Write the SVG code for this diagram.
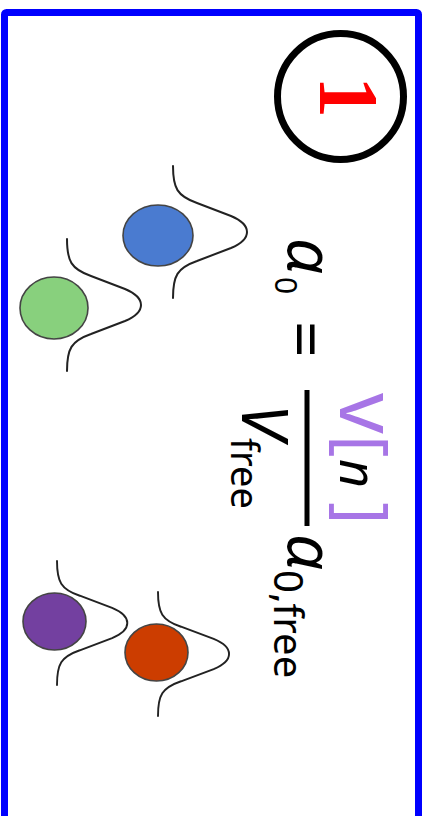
<svg xmlns="http://www.w3.org/2000/svg" width="426" height="816" viewBox="0 0 426 816">
  <style>
    .frame { fill: #ffffff; stroke: #0000ff; stroke-width: 7; }
    .badge { fill: #ffffff; stroke: #000000; stroke-width: 7; }
    .bell { fill: none; stroke: #222222; stroke-width: 2; stroke-linecap: round; }
    .ball { stroke: #444444; stroke-width: 1.6; }
    .math { font-family: "Noto Sans", "DejaVu Sans", sans-serif; fill: #000000; }
    .it { font-style: italic; }
    .vol { fill: #a775e6; }
  </style>
  <defs>
    <!-- bell-shaped profile, base along x=0, peak at (74,0) -->
    <path id="bell" d="M0,-66 C0,-44 4,-36 24,-29 L58,-16 C70,-11 74,-6 74,0 C74,6 70,11 58,16 L24,29 C4,36 0,44 0,66"/>
  </defs>

  <!-- outer frame -->
  <rect class="frame" x="4.5" y="12.5" width="414" height="830" rx="2"/>

  <!-- numbered badge -->
  <g id="badge">
    <circle class="badge" cx="340.5" cy="96.5" r="63"/>
    <text transform="rotate(90)" x="97" y="-320" text-anchor="middle" font-family="'Liberation Serif', serif" font-weight="bold" font-size="84" fill="#ff0000">1</text>
  </g>

  <!-- particle pairs with their distributions -->
  <g id="pair-top">
    <use href="#bell" class="bell" transform="translate(173,232)"/>
    <ellipse class="ball" cx="158" cy="235.5" rx="35" ry="30.5" fill="#4a7bd0"/>
    <use href="#bell" class="bell" transform="translate(67,305)"/>
    <ellipse class="ball" cx="54" cy="308" rx="34" ry="31" fill="#88d07d"/>
  </g>
  <g id="pair-bottom">
    <use href="#bell" class="bell" transform="translate(57,623) scale(0.95,0.94)"/>
    <ellipse class="ball" cx="54.5" cy="621.5" rx="31.5" ry="28.5" fill="#7340a0"/>
    <use href="#bell" class="bell" transform="translate(158,654) scale(0.96,0.94)"/>
    <ellipse class="ball" cx="156.5" cy="652.5" rx="31.5" ry="28.5" fill="#cc3d00"/>
  </g>

  <!-- relation, set sideways -->
  <g id="formula">
    <rect x="304.5" y="390" width="5" height="136" fill="#000000"/>
    <g transform="rotate(90)" class="math">
      <text class="it" x="238" y="-288" font-size="64">α</text>
      <text x="277" y="-275" font-size="30">0</text>
      <text x="321" y="-283" font-size="64">=</text>
      <text class="vol" x="393" y="-340" font-size="80">v</text>
      <text class="vol" x="435" y="-340" font-size="68">[</text>
      <text class="it" x="459" y="-340" font-size="50">n</text>
      <text class="vol" x="502" y="-340" font-size="68">]</text>
      <text class="it" x="404" y="-242" font-size="64">V</text>
      <text x="438" y="-231" font-size="38">free</text>
      <text class="it" x="534" y="-288" font-size="64">α</text>
      <text x="570" y="-274" font-size="40">0,free</text>
    </g>
  </g>
</svg>
